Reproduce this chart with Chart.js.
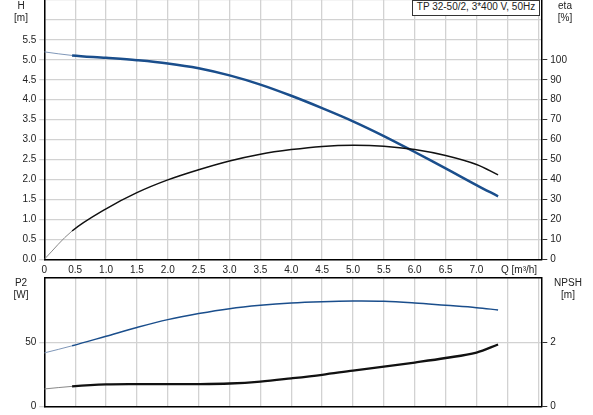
<!DOCTYPE html>
<html><head><meta charset="utf-8">
<script src="https://cdn.jsdelivr.net/npm/chart.js@4"></script>
<style>
html,body{margin:0;padding:0;background:#fff;}
#wrap{position:relative;width:593px;height:415px;overflow:hidden;font-family:"Liberation Sans",Arial,sans-serif;font-size:10px;color:#222;}
canvas{position:absolute;left:0;}
.lbl{position:absolute;text-align:center;line-height:12px;white-space:nowrap;}
#legendBox{position:absolute;left:412px;top:0;width:126px;height:14px;border:1px solid #333;background:#fff;text-align:center;line-height:12px;white-space:nowrap;}
</style></head><body>
<div id="wrap">
<canvas id="c1" width="593" height="276" style="top:0"></canvas>
<canvas id="c2" width="593" height="145" style="top:270px"></canvas>
<div class="lbl" style="left:8px;top:0;width:26px">H<br>[m]</div>
<div class="lbl" style="left:550px;top:0;width:30px">eta<br>[%]</div>
<div class="lbl" style="left:8px;top:277px;width:26px">P2<br>[W]</div>
<div class="lbl" style="left:549px;top:277px;width:38px">NPSH<br>[m]</div>
<div class="lbl" id="qLbl" style="left:501px;top:264px;"></div>
<div id="legendBox"></div>
</div>
<script>
// ---- data ----
const qFlow   = [0, 0.45, 1.0, 1.5, 2.0, 2.5, 3.0, 3.5, 4.0, 4.5, 5.0, 5.5, 6.0, 6.5, 7.0, 7.35];
const headM   = [5.2, 5.11, 5.05, 4.99, 4.91, 4.79, 4.61, 4.38, 4.10, 3.79, 3.46, 3.09, 2.69, 2.28, 1.86, 1.58];
const etaPct  = [0, 14.2, 25.3, 33.4, 39.8, 44.9, 49.3, 52.7, 55.0, 56.6, 57.2, 56.7, 55.0, 52.0, 47.5, 42.3];
const p2W     = [41.7, 47.2, 54.6, 61.4, 67.5, 72.2, 76.0, 78.6, 80.4, 81.4, 81.9, 81.7, 80.4, 78.6, 76.8, 75.0];
const npshM   = [0.55, 0.63, 0.69, 0.70, 0.70, 0.70, 0.72, 0.78, 0.88, 0.99, 1.12, 1.24, 1.37, 1.51, 1.68, 1.93];

const qTicks      = [0,0.5,1,1.5,2,2.5,3,3.5,4,4.5,5,5.5,6,6.5,7,7.5,8];
const qTickLabels = ['0','0.5','1.0','1.5','2.0','2.5','3.0','3.5','4.0','4.5','5.0','5.5','6.0','6.5','7.0','',''];
const hTicks      = [0,0.5,1,1.5,2,2.5,3,3.5,4,4.5,5,5.5,6,6.5];
const hTickLabels = ['0.0','0.5','1.0','1.5','2.0','2.5','3.0','3.5','4.0','4.5','5.0','5.5','',''];
const etaTicks      = [0,10,20,30,40,50,60,70,80,90,100,110,120,130];
const etaTickLabels = ['0','10','20','30','40','50','60','70','80','90','100','','',''];
const p2Ticks      = [0,50,100];
const p2TickLabels = ['0','50',''];
const npshTicks      = [0,2,4];
const npshTickLabels = ['0','2',''];
const qAxisTitle = 'Q [m³/h]';
const legendText = 'TP 32-50/2, 3*400 V, 50Hz';

document.getElementById('qLbl').textContent = qAxisTitle;
document.getElementById('legendBox').textContent = legendText;

// ---- styles ----
const BLUE = '#1a4e8c';
const BLUE_THIN = '#7f97b8';
const BLACK = '#111';
const GRAY_THIN = '#888';
const GRID = '#d2d2d2';
const FONT = {family:'"Liberation Sans", Arial, sans-serif', size:10};
const TXT = '#222';

const pts = (ys) => qFlow.map((q,i)=>({x:q, y:ys[i]}));
const seg = (thick, color, thinColor) => ({
  borderWidth: c => c.p0.parsed.x < 0.4 ? 1 : thick,
  borderColor: c => c.p0.parsed.x < 0.4 ? thinColor : color
});
const setTicks = (vals) => (s => { s.ticks = vals.map(v => ({value:v})); });
const lab = (vals, labels) => (v => { const i = vals.findIndex(t => Math.abs(t - v) < 1e-9); return i >= 0 ? labels[i] : ''; });
const tc = (limit, col) => (c => (c.tick && c.tick.value > limit) ? 'rgba(0,0,0,0)' : col);

const LEFT_W = 44.3, RIGHT_W = 593 - 541.3;

function xScale(height, showLabels){
  return {
    type:'linear', min:0, max:8.05,
    afterBuildTicks: setTicks(qTicks),
    ticks:{display:showLabels, callback: lab(qTicks, qTickLabels), font:FONT, color:TXT, padding:5, maxRotation:0, autoSkip:false},
    grid:{color:GRID, lineWidth:1.3, drawTicks:false},
    border:{color:'#000', width:1.5},
    afterFit: s => { s.height = height; s.paddingLeft = 0; s.paddingRight = 0; }
  };
}
function yScale(pos, min, max, vals, labels, limit, gridOn){
  return {
    type:'linear', position:pos, min:min, max:max,
    afterBuildTicks: setTicks(vals),
    ticks:{callback: lab(vals, labels), font:FONT, color:TXT, padding:3, autoSkip:false},
    grid: gridOn ? {color:GRID, lineWidth:1.3, tickLength:5, tickColor: tc(limit, GRID)}
                 : {drawOnChartArea:false, tickLength:6, lineWidth:1, tickColor: tc(limit, '#333')},
    border:{color:'#000', width:1.5},
    afterFit: s => { s.width = pos === 'left' ? LEFT_W : RIGHT_W; s.paddingTop = 0; s.paddingBottom = 0; }
  };
}

const topBorder = {
  id:'topBorder',
  afterDraw(chart){
    const a = chart.chartArea, ctx = chart.ctx;
    ctx.save(); ctx.strokeStyle = '#000'; ctx.lineWidth = 1.5;
    ctx.beginPath(); ctx.moveTo(a.left, a.top); ctx.lineTo(a.right, a.top); ctx.stroke(); ctx.restore();
  }
};

const common = {
  responsive:false, animation:false,
  plugins:{legend:{display:false}, tooltip:{enabled:false}},
  elements:{point:{radius:0}, line:{tension:0.35}}
};

new Chart(document.getElementById('c1'), {
  type:'line',
  data:{datasets:[
    {data:pts(etaPct), yAxisID:'yEta', borderColor:BLACK, borderWidth:1.5, segment:seg(1.5, BLACK, GRAY_THIN)},
    {data:pts(headM), yAxisID:'yH', borderColor:BLUE, borderWidth:2.5, segment:seg(2.5, BLUE, BLUE_THIN)}
  ]},
  options:Object.assign({}, common, {
    layout:{padding:{top:0, left:0, right:0, bottom:0}},
    scales:{
      x: xScale(16.7, true),
      yH: yScale('left', 0, 6.5, hTicks, hTickLabels, 5.5, true),
      yEta: yScale('right', 0, 130, etaTicks, etaTickLabels, 100, false)
    }
  })
});

new Chart(document.getElementById('c2'), {
  type:'line',
  data:{datasets:[
    {data:pts(p2W), yAxisID:'yP2', borderColor:BLUE, borderWidth:1.5, segment:seg(1.5, BLUE, BLUE_THIN)},
    {data:pts(npshM), yAxisID:'yNpsh', borderColor:BLACK, borderWidth:2.3, segment:seg(2.3, BLACK, GRAY_THIN)}
  ]},
  options:Object.assign({}, common, {
    layout:{padding:{top:7.7, left:0, right:0, bottom:0}},
    scales:{
      x: xScale(8.3, false),
      yP2: yScale('left', 0, 100, p2Ticks, p2TickLabels, 50, true),
      yNpsh: yScale('right', 0, 4, npshTicks, npshTickLabels, 2, false)
    }
  }),
  plugins:[topBorder]
});
</script>
</body></html>
